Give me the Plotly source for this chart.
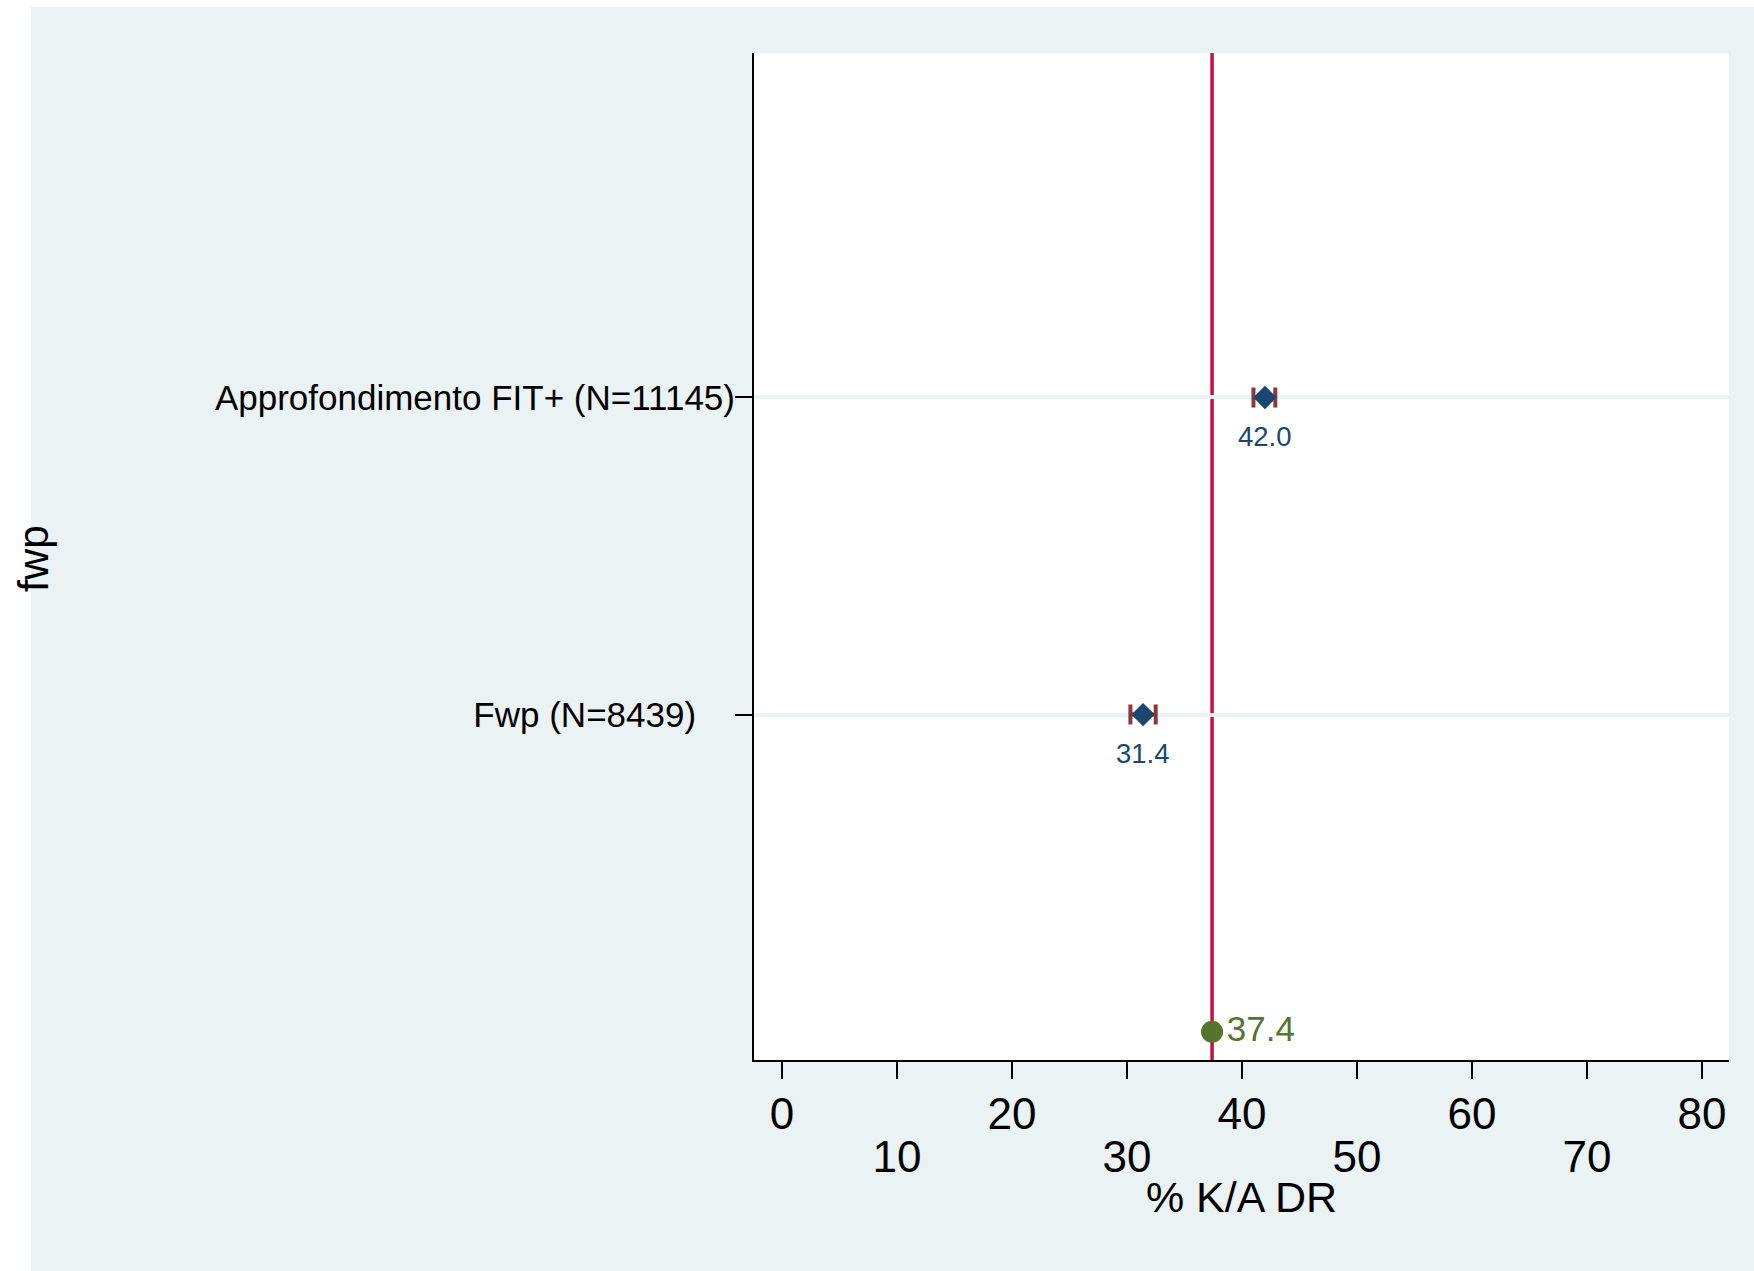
import plotly.graph_objects as go

# ---- data ----
groups = ["Approfondimento FIT+ (N=11145)", "Fwp (N=8439)"]
rates = [42.0, 31.4]
ci_low = [41.0, 30.3]
ci_high = [42.9, 32.5]
overall = 37.4
x_ticks = [0, 10, 20, 30, 40, 50, 60, 70, 80]
x_title = "% K/A DR"
y_title = "fwp"

# ---- layout helpers ----
W, H = 1754, 1271
ML, MR, MT, MB = 754, 25, 53, 211
PW, PH = W - ML - MR, H - MT - MB

n = len(groups)
rows = [n + 1 - i for i in range(n)]      # 3, 2
overall_row = 1

NAVY = "#1A476F"
MAROON = "#90353B"
GREEN = "#55752F"
RED = "#C8103C"
BG = "#EAF2F3"
FONT = "Liberation Sans, Arial, sans-serif"

fig = go.Figure()

fig.add_trace(go.Scatter(
    x=rates, y=rows, mode="markers",
    marker=dict(symbol="diamond", size=18, color=NAVY),
    error_x=dict(type="data", symmetric=False,
                 array=[h - r for h, r in zip(ci_high, rates)],
                 arrayminus=[r - l for r, l in zip(rates, ci_low)],
                 color=MAROON, thickness=4, width=10),
    showlegend=False, hoverinfo="x+y",
))

fig.add_trace(go.Scatter(
    x=[overall], y=[overall_row], mode="markers+text",
    marker=dict(symbol="circle", size=22, color=GREEN),
    text=[f"{overall:.1f}"], textposition="middle right",
    textfont=dict(size=35, color=GREEN, family=FONT),
    showlegend=False, hoverinfo="x",
))

# invisible trace for the second (odd labels) x axis
fig.add_trace(go.Scatter(x=[overall], y=[overall_row], xaxis="x2", mode="markers",
                         marker=dict(opacity=0), showlegend=False, hoverinfo="skip"))

fig.add_shape(type="line", xref="x", yref="paper", x0=overall, x1=overall, y0=0, y1=1,
              line=dict(color=RED, width=3.5), layer="between")

# white strips at the left and top of the image
x_left_edge = -ML / PW
x_right_edge = (W - ML) / PW
y_bottom_edge = -MB / PH
y_top_edge = (H - MB) / PH
fig.add_shape(type="rect", xref="paper", yref="paper",
              x0=x_left_edge, x1=(31 - ML) / PW, y0=y_bottom_edge, y1=y_top_edge,
              fillcolor="white", line=dict(width=0), layer="below")
fig.add_shape(type="rect", xref="paper", yref="paper",
              x0=x_left_edge, x1=x_right_edge, y0=(H - MB - 7) / PH, y1=y_top_edge,
              fillcolor="white", line=dict(width=0), layer="below")

xr = [-2.43, 82.35]
even_text = [str(v) if (v // 10) % 2 == 0 else "" for v in x_ticks]
odd_vals = [v for v in x_ticks if (v // 10) % 2 == 1]

tick_text = [groups[0], groups[1] + "\u00a0" * 4]

annotations = [dict(text=y_title, xref="paper", yref="paper",
                    x=(33 - ML) / PW, y=1 - (559 - MT) / PH,
                    xanchor="center", yanchor="middle", textangle=-90, showarrow=False,
                    font=dict(size=43, family=FONT, color="black"))]
for r, row in zip(rates, rows):
    annotations.append(dict(text=f"{r:.1f}", x=r, y=row, xref="x", yref="y",
                            yshift=-39, xanchor="center", yanchor="middle",
                            showarrow=False,
                            font=dict(size=27.5, family=FONT, color=NAVY)))

fig.update_layout(
    width=W, height=H,
    margin=dict(l=ML, r=MR, t=MT, b=MB, autoexpand=False),
    paper_bgcolor=BG, plot_bgcolor="white",
    font=dict(family=FONT, color="black"),
    xaxis=dict(range=xr, tickmode="array", tickvals=x_ticks, ticktext=even_text,
               ticks="outside", ticklen=17, tickwidth=2, tickcolor="black",
               showline=True, linewidth=2, linecolor="black",
               showgrid=False, zeroline=False,
               tickfont=dict(size=44, family=FONT, color="black"),
               ticklabelstandoff=-3,
               title=dict(text=x_title, font=dict(size=43, family=FONT, color="black"),
                          standoff=45),
               automargin=False),
    xaxis2=dict(range=xr, overlaying="x", anchor="y", side="bottom",
                tickmode="array", tickvals=odd_vals, ticktext=[str(v) for v in odd_vals],
                ticks="", showline=False, showgrid=False, zeroline=False,
                tickfont=dict(size=44, family=FONT, color="black"),
                ticklabelstandoff=67, automargin=False),
    yaxis=dict(range=[0.911, 4.086], tickmode="array", tickvals=rows, ticktext=tick_text,
               ticks="outside", ticklen=17, tickwidth=2, tickcolor="black",
               showline=True, linewidth=2, linecolor="black",
               showgrid=True, gridcolor=BG, gridwidth=3.5, zeroline=False,
               tickfont=dict(size=35, family=FONT, color="black"),
               ticklabelstandoff=-7,
               automargin=False),
    annotations=annotations,
)

fig.write_html("out.html", config={"displayModeBar": False},
               post_script="document.body.style.margin='0';")
